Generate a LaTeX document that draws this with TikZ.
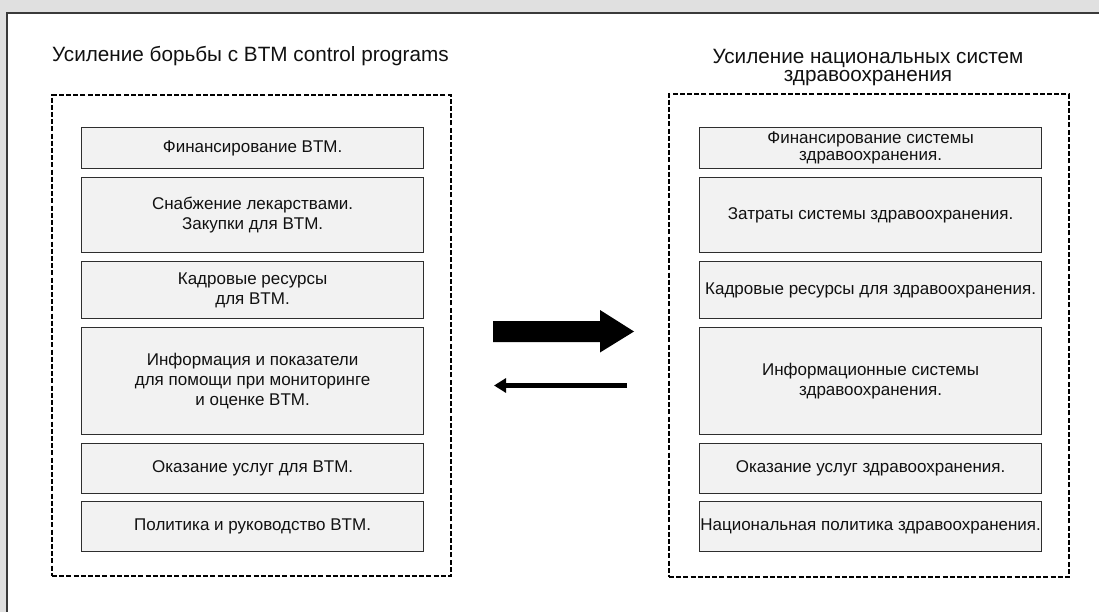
\documentclass[tikz,border=0pt]{standalone}
\usepackage{fontspec}
\setmainfont{Liberation Sans}
\usetikzlibrary{arrows.meta}

\definecolor{pagegray}{HTML}{E0E0E0}
\definecolor{frameline}{HTML}{3A3A3A}
\definecolor{boxfill}{HTML}{F2F2F2}
\definecolor{boxline}{HTML}{2E2E2E}
\definecolor{inktext}{HTML}{111111}

\tikzset{
  itembox/.style={draw=boxline, fill=boxfill, line width=1.2pt,
    minimum width=342pt, inner sep=0pt, align=center, anchor=north west,
    text=inktext, font=\fontsize{17}{20}\selectfont},
  groupbox/.style={draw=black, line width=1.9pt,
    dash pattern=on 5pt off 2.2pt, inner sep=0pt, anchor=north west},
  headtext/.style={text=inktext, font=\fontsize{20.7}{18}\selectfont, inner sep=0pt},
}

\begin{document}
\begin{tikzpicture}[x=1pt, y=-1pt]
  \useasboundingbox (0,0) rectangle (1099,612);
  \clip (0,0) rectangle (1099,612);

  % page background and white panel
  \fill[pagegray] (0,0) rectangle (1099,612);
  \draw[frameline, fill=white, line width=1.6pt] (6.8,12.8) rectangle (1120,640);

  % headings
  \node[headtext, anchor=base west] (lhead) at (52,62)
    {Усиление борьбы с BTM control programs};
  \node[headtext, anchor=base] (rhead) at (868,64)
    {Усиление национальных систем};
  \node[headtext, anchor=base] (rhead2) at (868,81.5)
    {здравоохранения};

  % dashed containers
  \node[groupbox, minimum width=399pt, minimum height=481pt] (lgroup) at (51,94) {};
  \node[groupbox, minimum width=400pt, minimum height=483pt] (rgroup) at (668,93) {};

  % left column
  \node[itembox, minimum height=41pt]  (l1) at (81,127) {Финансирование BTM.};
  \node[itembox, minimum height=75pt]  (l2) at (81,177) {Снабжение лекарствами.\\Закупки для BTM.};
  \node[itembox, minimum height=57pt]  (l3) at (81,261) {Кадровые ресурсы\\для BTM.};
  \node[itembox, minimum height=107pt] (l4) at (81,327) {Информация и показатели\\для помощи при мониторинге\\и оценке BTM.};
  \node[itembox, minimum height=50pt]  (l5) at (81,443) {Оказание услуг для BTM.};
  \node[itembox, minimum height=50pt]  (l6) at (81,501) {Политика и руководство BTM.};

  % right column
  \node[itembox, minimum height=41pt, font=\fontsize{17}{17.5}\selectfont]
    (r1) at (699,127) {Финансирование системы\\здравоохранения.};
  \node[itembox, minimum height=75pt]  (r2) at (699,177) {Затраты системы здравоохранения.};
  \node[itembox, minimum height=57pt]  (r3) at (699,261) {Кадровые ресурсы для здравоохранения.};
  \node[itembox, minimum height=107pt] (r4) at (699,327) {Информационные системы\\здравоохранения.};
  \node[itembox, minimum height=50pt]  (r5) at (699,443) {Оказание услуг здравоохранения.};
  \node[itembox, minimum height=50pt]  (r6) at (699,501) {Национальная политика здравоохранения.};

  % broad arrow towards the health systems
  \coordinate (bigtail) at (493,331.5);
  \coordinate (bigtip) at (634,331.5);
  \fill[black] (bigtail) ++(0,-10.5) -- ++(107,0) -- ++(0,-11) -- (bigtip)
    -- (600,352.5) -- ++(0,-10.5) -- (493,342) -- cycle;

  % thin return arrow
  \coordinate (thinstart) at (627,385.5);
  \coordinate (thinend) at (494,385.5);
  \draw[line width=5pt, -{Triangle[length=12pt 0 0, width=14pt 0 0]}]
    (thinstart) -- (thinend);
\end{tikzpicture}
\end{document}
